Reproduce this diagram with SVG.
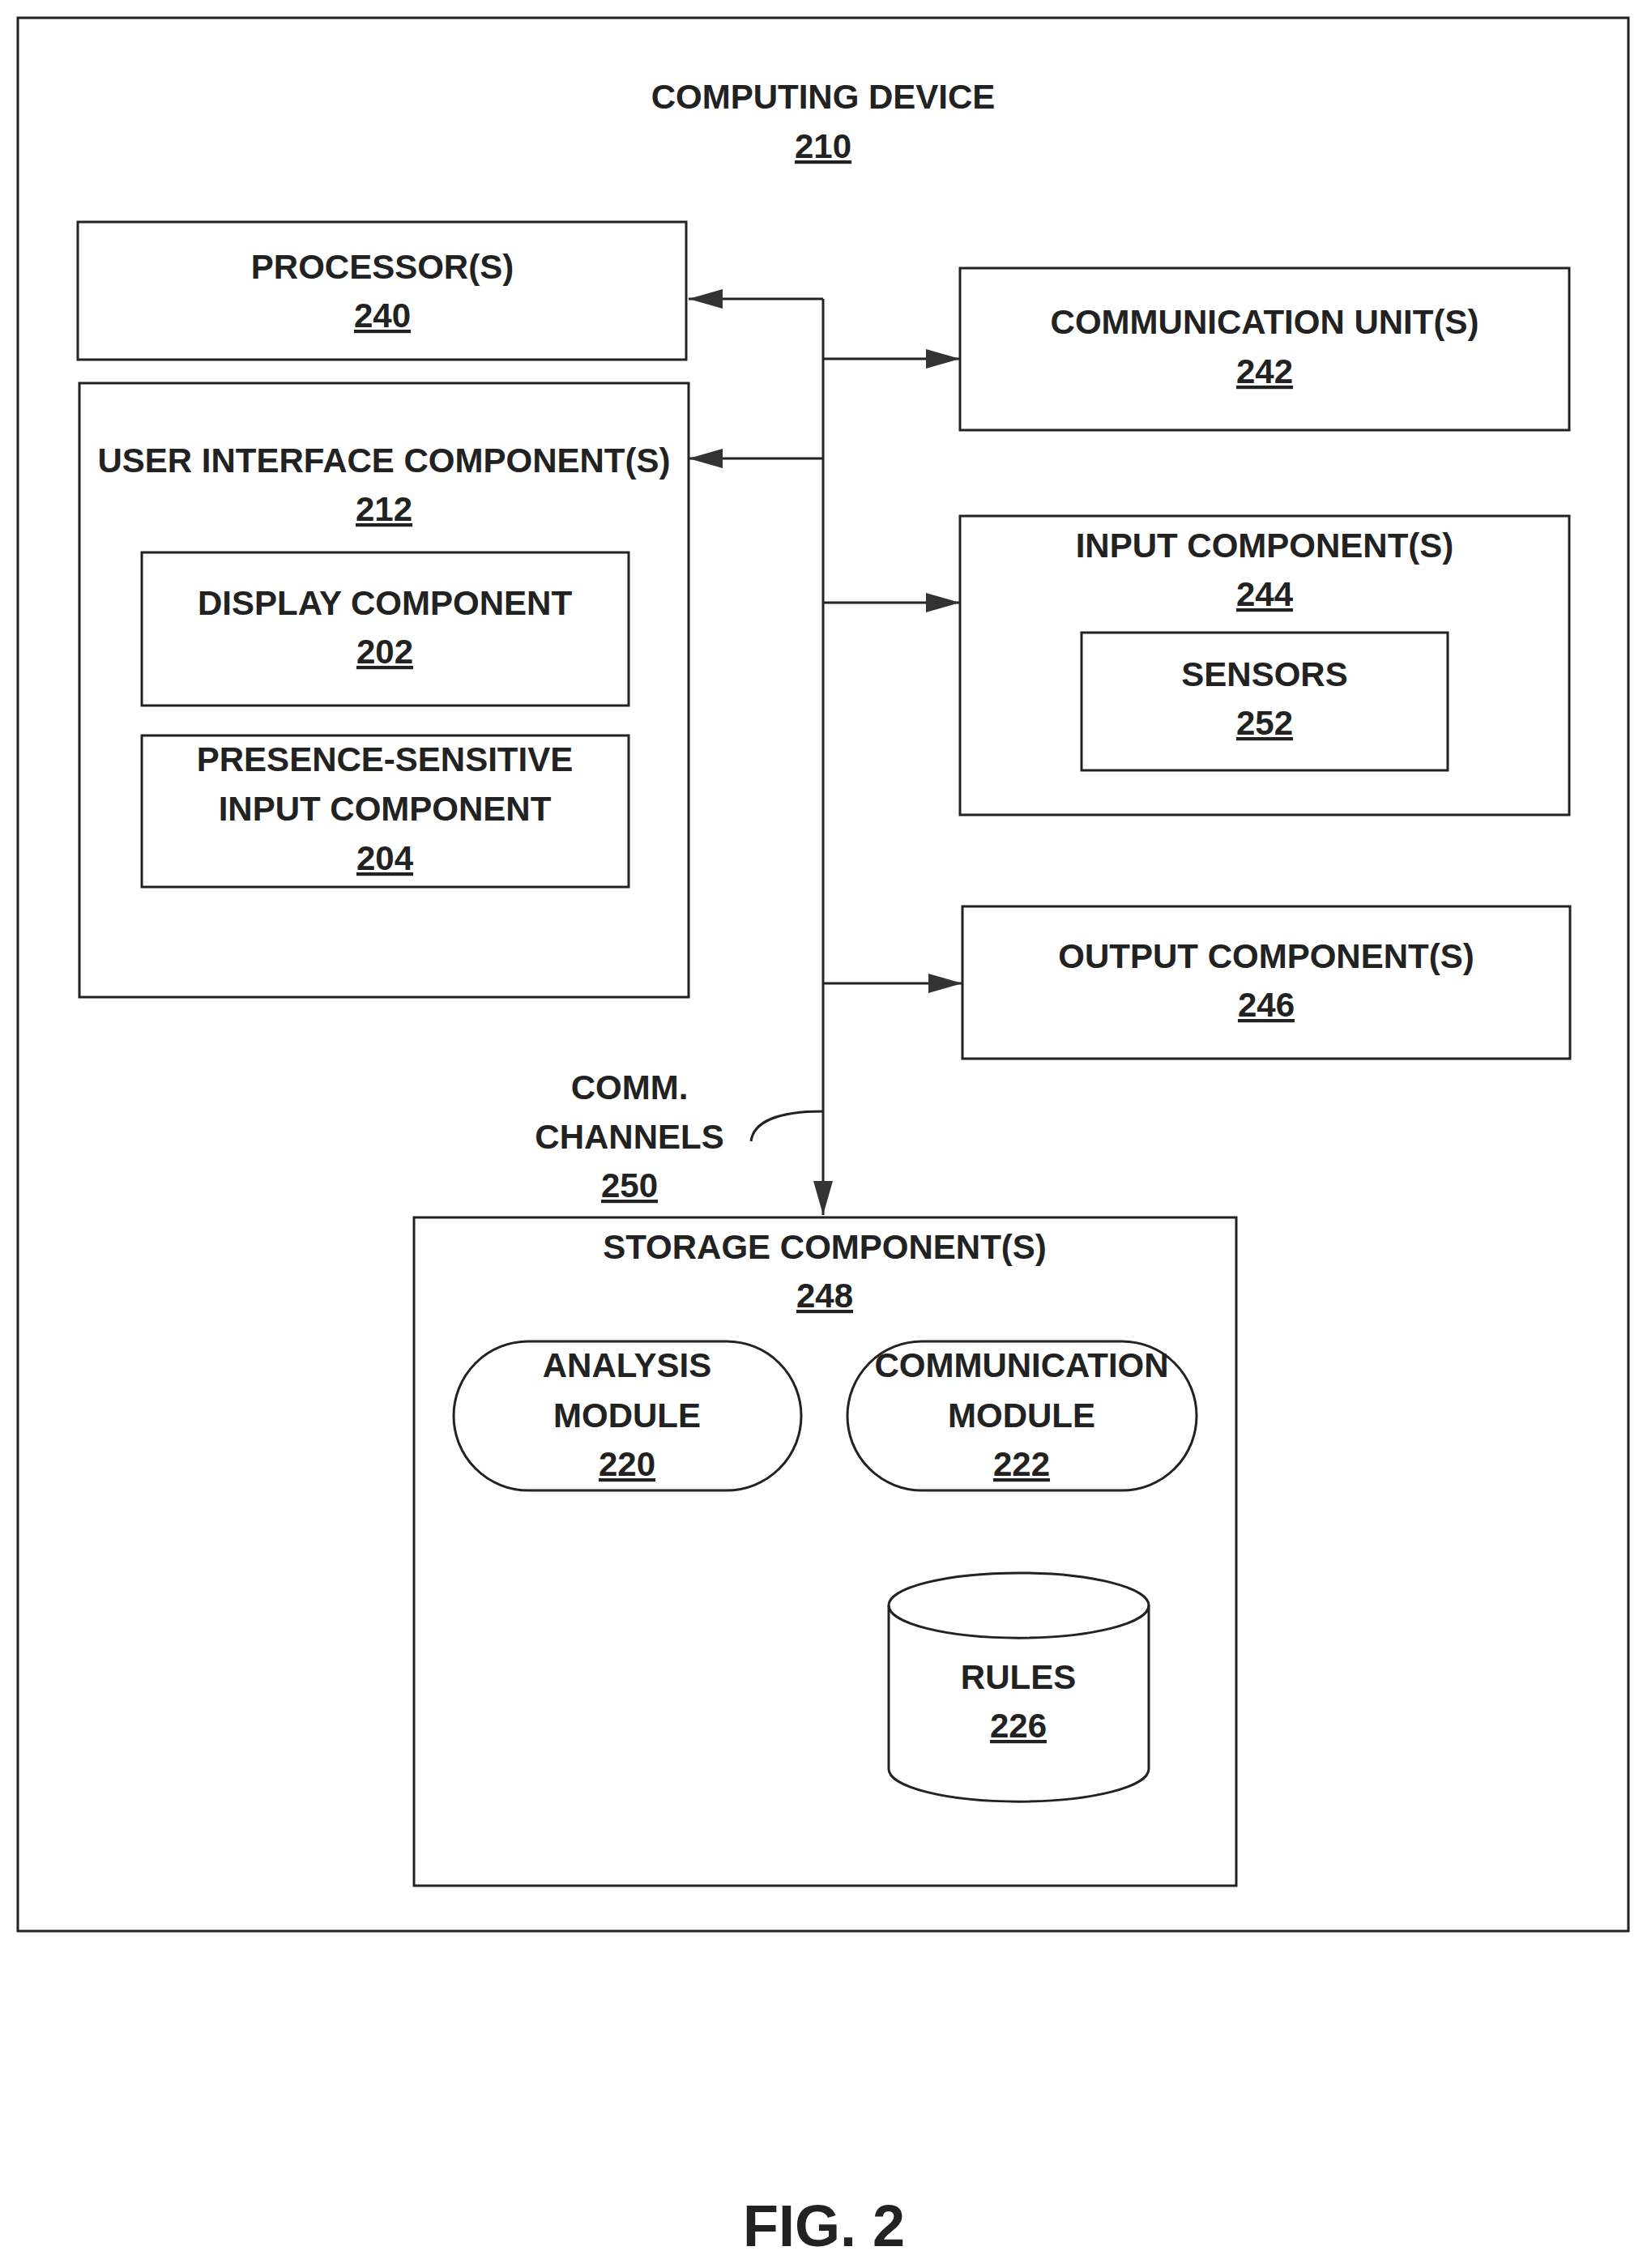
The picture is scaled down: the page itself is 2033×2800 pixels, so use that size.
<svg xmlns="http://www.w3.org/2000/svg" width="2033" height="2800" viewBox="0 0 2033 2800">
<style>
rect,.sh{fill:none;stroke:#222;stroke-width:3}
text{font-family:"Liberation Sans",Arial,sans-serif;font-weight:bold;font-size:42px;fill:#222;text-anchor:middle}
.u{text-decoration:underline}
.c{fill:none;stroke:#222;stroke-width:3}
</style>
<defs>
<marker id="ah" markerUnits="userSpaceOnUse" markerWidth="44" markerHeight="28" refX="42" refY="14" orient="auto">
<path d="M0,2 L42,14 L0,26 Z" fill="#333"/>
</marker>
</defs>
<rect width="2033" height="2800" fill="#fff" style="stroke:none"/>
<g id="device"><rect x="22" y="22" width="1988" height="2362"/>
<text x="1016" y="134">COMPUTING DEVICE</text><text class="u" x="1016" y="195">210</text></g>
<g id="processor"><rect x="96" y="274" width="751" height="170"/>
<text x="472" y="344">PROCESSOR(S)</text><text class="u" x="472" y="404">240</text></g>
<g id="ui"><rect x="98" y="473" width="752" height="758"/>
<text x="474" y="583">USER INTERFACE COMPONENT(S)</text><text class="u" x="474" y="643">212</text></g>
<g id="display"><rect x="175" y="682" width="601" height="189"/>
<text x="475" y="759">DISPLAY COMPONENT</text><text class="u" x="475" y="819">202</text></g>
<g id="presence"><rect x="175" y="908" width="601" height="187"/>
<text x="475" y="952">PRESENCE-SENSITIVE</text><text x="475" y="1013">INPUT COMPONENT</text><text class="u" x="475" y="1074">204</text></g>
<g id="communit"><rect x="1185" y="331" width="752" height="200"/>
<text x="1561" y="412">COMMUNICATION UNIT(S)</text><text class="u" x="1561" y="473">242</text></g>
<g id="input"><rect x="1185" y="637" width="752" height="369"/>
<text x="1561" y="688">INPUT COMPONENT(S)</text><text class="u" x="1561" y="748">244</text></g>
<g id="sensors"><rect x="1335" y="781" width="452" height="170"/>
<text x="1561" y="847">SENSORS</text><text class="u" x="1561" y="907">252</text></g>
<g id="output"><rect x="1188" y="1119" width="750" height="188"/>
<text x="1563" y="1195">OUTPUT COMPONENT(S)</text><text class="u" x="1563" y="1255">246</text></g>
<g id="commlabel"><text x="777" y="1357">COMM.</text><text x="777" y="1418">CHANNELS</text><text class="u" x="777" y="1478">250</text></g>
<g id="storage"><rect x="511" y="1503" width="1015" height="825"/>
<text x="1018" y="1554">STORAGE COMPONENT(S)</text><text class="u" x="1018" y="1614">248</text></g>
<g id="analysis"><rect x="560" y="1656" width="429" height="184" rx="92" ry="92"/>
<text x="774" y="1700">ANALYSIS</text><text x="774" y="1762">MODULE</text><text class="u" x="774" y="1822">220</text></g>
<g id="commmodule"><rect x="1046" y="1656" width="431" height="184" rx="92" ry="92"/>
<text x="1261" y="1700">COMMUNICATION</text><text x="1261" y="1762">MODULE</text><text class="u" x="1261" y="1822">222</text></g>
<g id="rules">
<path class="sh" d="M1097,1982 A160,40 0 0 1 1418,1982 L1418,2184 A160,40 0 0 1 1097,2184 Z"/>
<path class="sh" d="M1097,1982 A160,40 0 0 0 1418,1982"/>
<text x="1257" y="2085">RULES</text><text class="u" x="1257" y="2145">226</text></g>
<g id="connectors">
<path class="c" d="M1016,369 L1016,1500" marker-end="url(#ah)"/>
<path class="c" d="M1016,369 L850,369" marker-end="url(#ah)"/>
<path class="c" d="M1016,566 L850,566" marker-end="url(#ah)"/>
<path class="c" d="M1016,443 L1185,443" marker-end="url(#ah)"/>
<path class="c" d="M1016,744 L1185,744" marker-end="url(#ah)"/>
<path class="c" d="M1016,1214 L1188,1214" marker-end="url(#ah)"/>
<path class="c" d="M1016,1372 C960,1372 930,1385 927,1409"/>
</g>
<text x="1017" y="2773" style="font-size:72px">FIG. 2</text>
</svg>
